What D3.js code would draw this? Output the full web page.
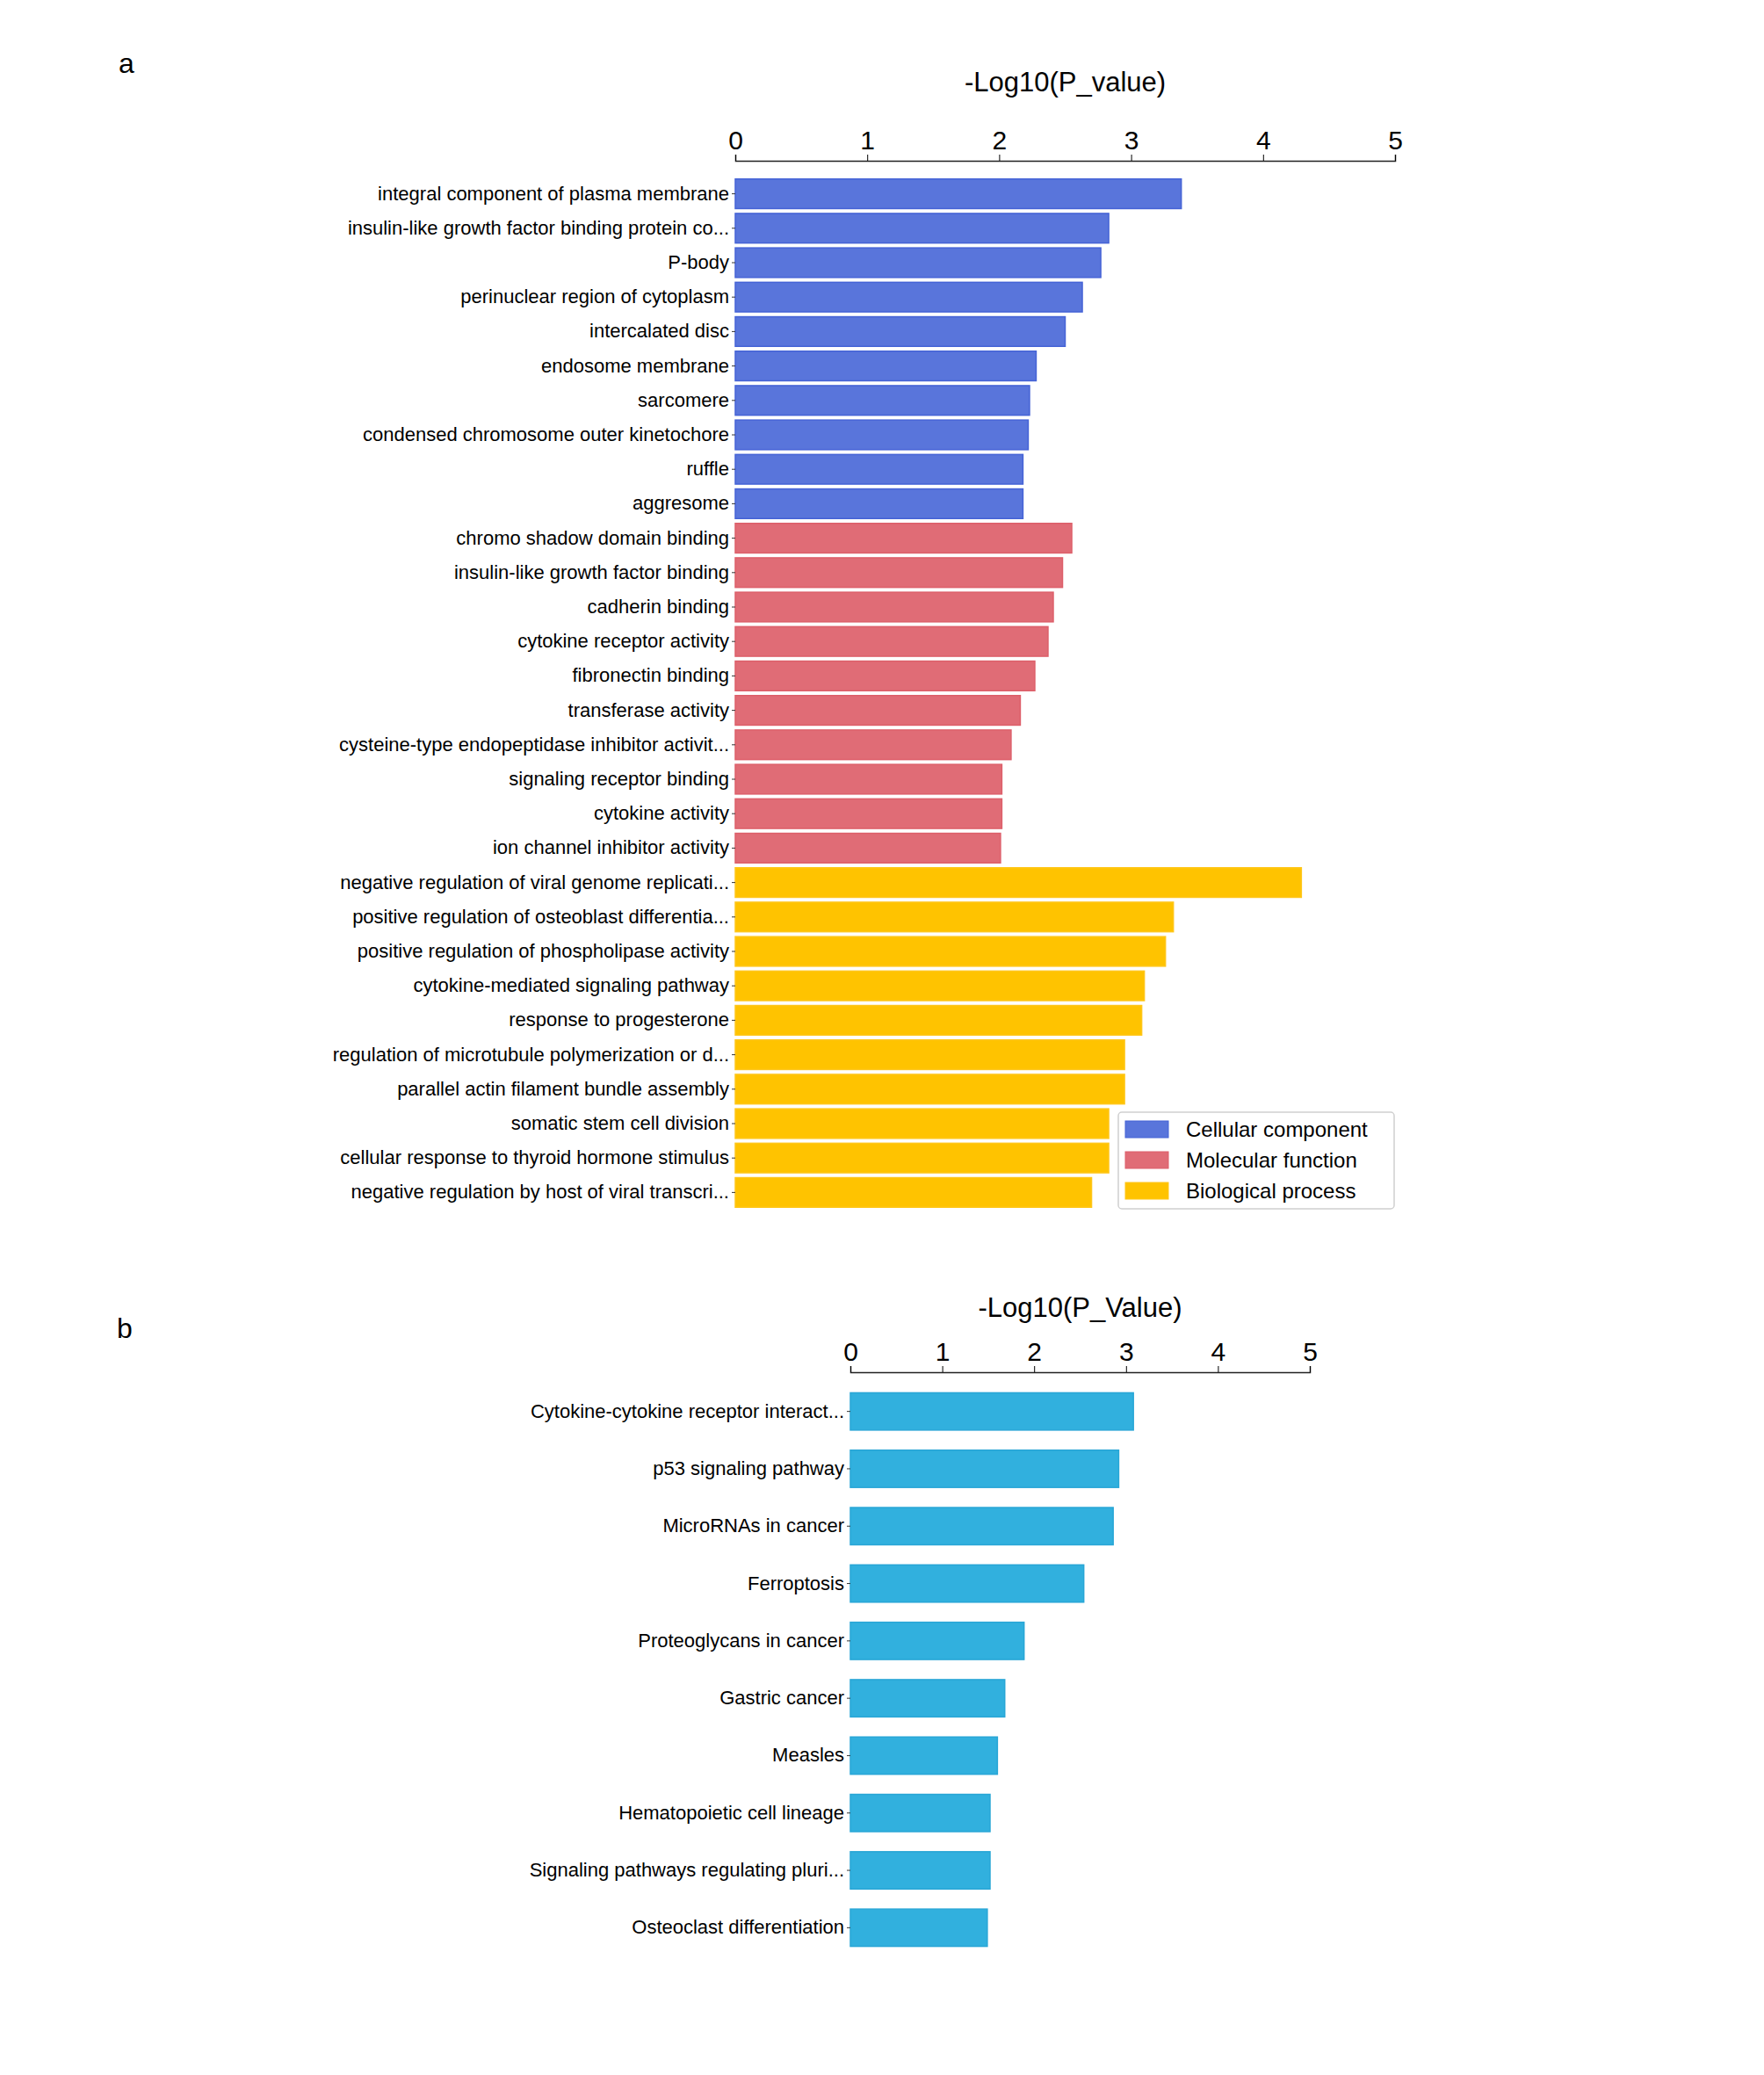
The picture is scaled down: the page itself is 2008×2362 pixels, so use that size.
<!DOCTYPE html>
<html>
<head>
<meta charset="utf-8">
<script src="https://cdn.jsdelivr.net/npm/d3@7"></script>
<style>
  body { margin: 0; background: #fff; }
  text { font-family: "Liberation Sans", Arial, sans-serif; }
</style>
</head>
<body>
<div id="chart"></div>
<script>
// panel a data
const goTerms = [
  "integral component of plasma membrane", "insulin-like growth factor binding protein co...",
  "P-body", "perinuclear region of cytoplasm", "intercalated disc", "endosome membrane",
  "sarcomere", "condensed chromosome outer kinetochore", "ruffle", "aggresome",
  "chromo shadow domain binding", "insulin-like growth factor binding", "cadherin binding",
  "cytokine receptor activity", "fibronectin binding", "transferase activity",
  "cysteine-type endopeptidase inhibitor activit...", "signaling receptor binding",
  "cytokine activity", "ion channel inhibitor activity",
  "negative regulation of viral genome replicati...", "positive regulation of osteoblast differentia...",
  "positive regulation of phospholipase activity", "cytokine-mediated signaling pathway",
  "response to progesterone", "regulation of microtubule polymerization or d...",
  "parallel actin filament bundle assembly", "somatic stem cell division",
  "cellular response to thyroid hormone stimulus", "negative regulation by host of viral transcri..."
];
const goValues = [3.38, 2.83, 2.77, 2.63, 2.50, 2.28, 2.23, 2.22, 2.18, 2.18,
  2.55, 2.48, 2.41, 2.37, 2.27, 2.16, 2.09, 2.02, 2.02, 2.01,
  4.29, 3.32, 3.26, 3.10, 3.08, 2.95, 2.95, 2.83, 2.83, 2.70];
const goCategory = [0,0,0,0,0,0,0,0,0,0, 1,1,1,1,1,1,1,1,1,1, 2,2,2,2,2,2,2,2,2,2];
const categoryNames = ["Cellular component", "Molecular function", "Biological process"];
const categoryColors = ["#5975DB", "#E06C76", "#FFC300"];
const categoryEdges = ["#4563D6", "#DD5F6A", "#FFC61A"];

// panel b data
const keggTerms = [
  "Cytokine-cytokine receptor interact...", "p53 signaling pathway", "MicroRNAs in cancer",
  "Ferroptosis", "Proteoglycans in cancer", "Gastric cancer", "Measles",
  "Hematopoietic cell lineage", "Signaling pathways regulating pluri...", "Osteoclast differentiation"
];
const keggValues = [3.08, 2.92, 2.86, 2.54, 1.89, 1.68, 1.60, 1.52, 1.52, 1.49];
const ticks = [0, 1, 2, 3, 4, 5];

const W = 2008, H = 2362;
const svg = d3.select("#chart").append("svg").attr("width", W).attr("height", H);

function drawPanel(cfg) {
  const x = d3.scaleLinear().domain([0, 5]).range([cfg.x0, cfg.x1]);
  const y = d3.scaleBand().domain(cfg.terms).range([cfg.yTop, cfg.yBottom]).paddingInner(cfg.pad).paddingOuter(cfg.pad / 2);
  const g = svg.append("g");

  g.append("g")
    .attr("transform", `translate(0,${cfg.axisY})`)
    .call(d3.axisTop(x).tickValues(ticks).tickSize(7).tickPadding(6).tickFormat(d3.format("d")))
    .call(a => a.select(".domain").attr("stroke", "#222").attr("stroke-width", 1.5))
    .call(a => a.selectAll("text").attr("font-size", 30).attr("fill", "#000"));

  g.append("text").attr("x", (cfg.x0 + cfg.x1) / 2).attr("y", cfg.titleY)
    .attr("text-anchor", "middle").attr("font-size", 31).text(cfg.title);

  g.selectAll("rect.bar").data(cfg.terms).join("rect")
    .attr("x", x(0)).attr("y", d => y(d))
    .attr("width", (d, i) => x(cfg.values[i]) - x(0)).attr("height", y.bandwidth())
    .attr("fill", (d, i) => cfg.fill(i)).attr("stroke", (d, i) => cfg.edge(i)).attr("stroke-width", 1.5);

  g.append("g")
    .attr("transform", `translate(${x(0)},0)`)
    .call(d3.axisLeft(y).tickSize(4).tickPadding(3))
    .call(a => a.select(".domain").remove())
    .call(a => a.selectAll("line").attr("stroke", "#333"))
    .call(a => a.selectAll("text").attr("font-size", 22).attr("fill", "#000"));

  g.append("text").attr("x", cfg.letterX).attr("y", cfg.letterY)
    .attr("font-family", "Open Sans, sans-serif").attr("font-size", 32).text(cfg.letter);
  return { x, y };
}

drawPanel({
  terms: goTerms, values: goValues, x0: 837, x1: 1588, yTop: 201, yBottom: 1377, pad: 0.14,
  axisY: 183, titleY: 104, title: "-Log10(P_value)", letter: "a", letterX: 135, letterY: 83,
  fill: i => categoryColors[goCategory[i]], edge: i => categoryEdges[goCategory[i]]
});

drawPanel({
  terms: keggTerms, values: keggValues, x0: 968, x1: 1491, yTop: 1574, yBottom: 2227, pad: 0.35,
  axisY: 1562, titleY: 1499, title: "-Log10(P_Value)", letter: "b", letterX: 133, letterY: 1523,
  fill: () => "#31B0DE", edge: () => "#28A6D6"
});

// legend
const lg = svg.append("g").attr("transform", "translate(1273,1266)");
lg.append("rect").attr("width", 314).attr("height", 110).attr("rx", 4)
  .attr("fill", "#fff").attr("stroke", "#d0d0d0").attr("stroke-width", 1.5);
categoryNames.forEach((name, i) => {
  lg.append("rect").attr("x", 8).attr("y", 10 + i * 35).attr("width", 49).attr("height", 19)
    .attr("fill", categoryColors[i]).attr("stroke", categoryEdges[i]);
  lg.append("text").attr("x", 77).attr("y", 28 + i * 35).attr("font-size", 24)
    .attr("font-family", "DejaVu Sans, sans-serif").text(name);
});
</script>
</body>
</html>
